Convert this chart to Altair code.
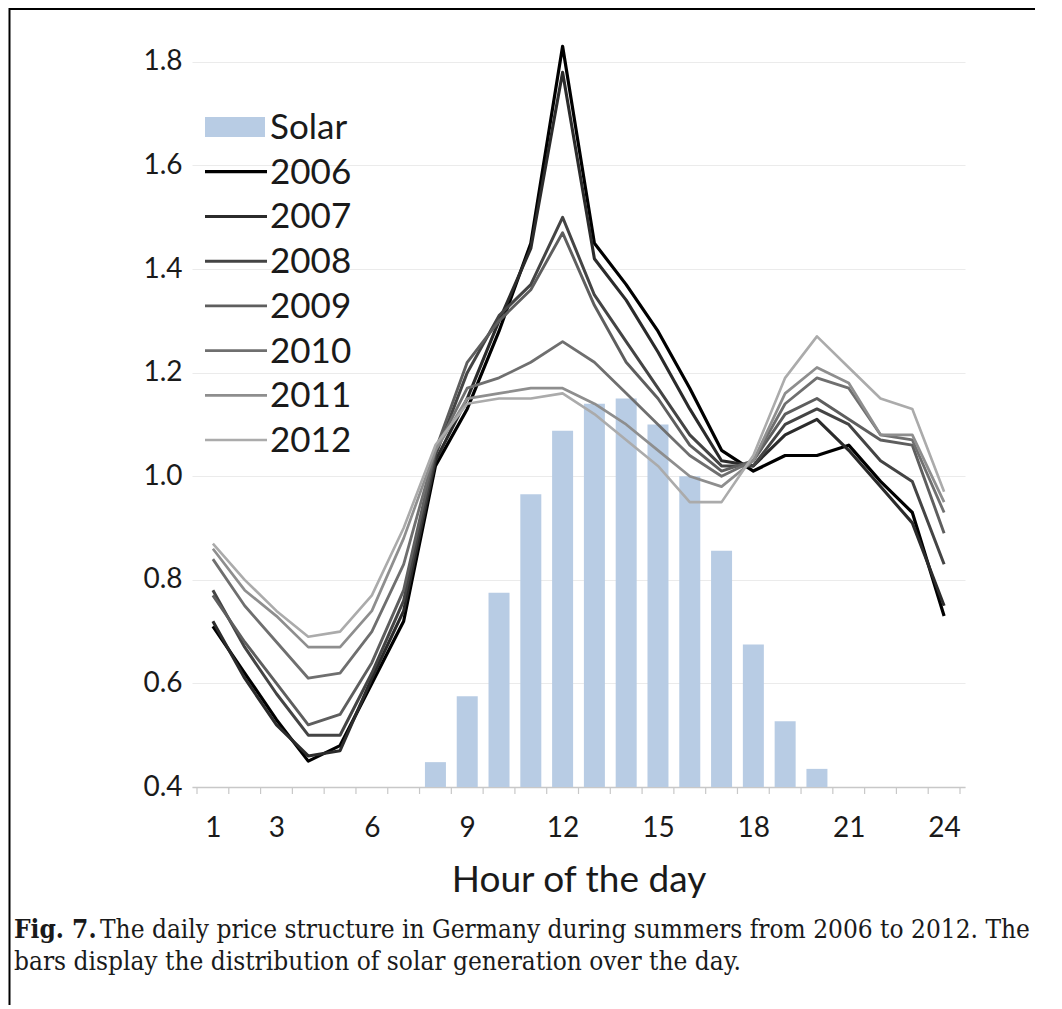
import altair as alt
import pandas as pd

# ---------------- data ----------------
hours = list(range(1, 25))
label_hours = [1, 3, 6, 9, 12, 15, 18, 21, 24]
y_ticks = [0.4, 0.6, 0.8, 1.0, 1.2, 1.4, 1.6, 1.8]

solar_hours = [8, 9, 10, 11, 12, 13, 14, 15, 16, 17, 18, 19, 20]
solar = [0.448, 0.575, 0.775, 0.965, 1.088, 1.14, 1.15, 1.10, 1.00, 0.856, 0.675, 0.527, 0.435]

years = ["2006", "2007", "2008", "2009", "2010", "2011", "2012"]
p2006 = [0.71, 0.62, 0.53, 0.45, 0.48, 0.60, 0.72, 1.02, 1.13, 1.28, 1.45, 1.83, 1.45, 1.37, 1.28, 1.17, 1.05, 1.01, 1.04, 1.04, 1.06, 0.99, 0.93, 0.73]
p2007 = [0.72, 0.61, 0.52, 0.46, 0.47, 0.61, 0.74, 1.03, 1.15, 1.30, 1.44, 1.78, 1.42, 1.34, 1.24, 1.13, 1.03, 1.02, 1.08, 1.11, 1.05, 0.98, 0.91, 0.75]
p2008 = [0.78, 0.67, 0.58, 0.50, 0.50, 0.62, 0.76, 1.04, 1.20, 1.31, 1.37, 1.50, 1.35, 1.26, 1.17, 1.08, 1.02, 1.02, 1.10, 1.13, 1.10, 1.03, 0.99, 0.83]
p2009 = [0.77, 0.68, 0.60, 0.52, 0.54, 0.64, 0.78, 1.05, 1.22, 1.30, 1.36, 1.47, 1.33, 1.22, 1.15, 1.06, 1.01, 1.03, 1.12, 1.15, 1.11, 1.07, 1.06, 0.89]
p2010 = [0.84, 0.75, 0.68, 0.61, 0.62, 0.70, 0.83, 1.05, 1.17, 1.19, 1.22, 1.26, 1.22, 1.16, 1.10, 1.04, 1.00, 1.03, 1.14, 1.19, 1.17, 1.08, 1.07, 0.93]
p2011 = [0.86, 0.78, 0.73, 0.67, 0.67, 0.74, 0.88, 1.05, 1.15, 1.16, 1.17, 1.17, 1.14, 1.10, 1.05, 1.00, 0.98, 1.03, 1.16, 1.21, 1.18, 1.08, 1.08, 0.95]
p2012 = [0.87, 0.80, 0.74, 0.69, 0.70, 0.77, 0.90, 1.06, 1.14, 1.15, 1.15, 1.16, 1.12, 1.07, 1.02, 0.95, 0.95, 1.04, 1.19, 1.27, 1.21, 1.15, 1.13, 0.97]
prices = [p2006, p2007, p2008, p2009, p2010, p2011, p2012]

year_colors = ["#000000", "#2b2b2b", "#444444", "#5e5e5e", "#6f6f6f", "#8e8e8e", "#ababab"]
year_widths = [3.2, 2.6, 2.4, 2.2, 2.2, 2.0, 2.0]
solar_color = "#b8cce4"
legend_names = ["Solar"] + years

caption_bold = "Fig. 7."
caption_line1 = "The daily price structure in Germany during summers from 2006 to 2012. The"
caption_line2 = "bars display the distribution of solar generation over the day."

# ---------------- tables ----------------
bars_df = pd.DataFrame({"hour": solar_hours, "value": solar})
rows = []
for yr, vals in zip(years, prices):
    for h, v in zip(hours, vals):
        rows.append({"hour": h, "value": v, "series": yr})
lines_df = pd.DataFrame(rows)
bounds_df = pd.DataFrame({"b": [hours[0] - 0.5] + [h + 0.5 for h in hours]})
legend_df = pd.DataFrame({"series": legend_names, "row": list(range(len(legend_names)))})
legend_lines_df = legend_df[legend_df["series"] != "Solar"]

FONT = "Lato"
CAP_FONT = "DejaVu Serif Condensed"
W, H = 773, 751
AXIS_GREY = "#c8c8c8"

x_scale = alt.Scale(domain=[0.5, 24.5], nice=False, zero=False)
y_scale = alt.Scale(domain=[0.4, 1.85], nice=False, zero=False)
color_scale = alt.Scale(domain=years, range=year_colors)
width_scale = alt.Scale(domain=years, range=year_widths)
row_scale = alt.Scale(domain=[0, len(legend_names) - 1], range=[0, 313], nice=False, zero=False)

x_axis = alt.Axis(
    values=label_hours, format="d",
    grid=False,
    domain=True, domainColor=AXIS_GREY, domainWidth=1.5,
    ticks=False,
    labelFont=FONT, labelFontSize=28, labelColor="#1a1a1a", labelPadding=27,
    labelOverlap=False, labelFlush=False, labelBound=False,
    title="Hour of the day", titleFont=FONT, titleFontSize=37, titleFontWeight="normal",
    titleColor="#1a1a1a", titlePadding=20,
)
y_axis = alt.Axis(
    values=y_ticks, format=".1f",
    domain=False, ticks=False,
    grid=True, gridColor="#ebebeb", gridWidth=1.2,
    labelFont=FONT, labelFontSize=28, labelColor="#1a1a1a", labelPadding=10,
    title=None,
)

bars = alt.Chart(bars_df).mark_bar(size=21, opacity=1, color=solar_color).encode(
    x=alt.X("hour:Q", scale=x_scale, axis=x_axis),
    y=alt.Y("value:Q", scale=y_scale, axis=y_axis),
    y2=alt.datum(0.4),
)

tick_marks = alt.Chart(bounds_df).mark_rule(color=AXIS_GREY, strokeWidth=1.2).encode(
    x=alt.X("b:Q", scale=x_scale, axis=x_axis),
    y=alt.value(H), y2=alt.value(H + 7),
)

lines = alt.Chart(lines_df).mark_line(interpolate="linear", strokeJoin="round").encode(
    x=alt.X("hour:Q", scale=x_scale, axis=x_axis),
    y=alt.Y("value:Q", scale=y_scale, axis=y_axis),
    stroke=alt.Stroke("series:N", scale=color_scale, legend=None),
    strokeWidth=alt.StrokeWidth("series:N", scale=width_scale, legend=None),
    order=alt.Order("series:N", sort="descending"),
)

# ---- legend (drawn as marks, one row per series) ----
LEG_X0, LEG_X1, LEG_Y0 = 13, 75, 91
legend_swatch = alt.Chart(pd.DataFrame({"k": [0]})).mark_rule(
    color=solar_color, strokeWidth=20, strokeCap="butt"
).encode(x=alt.value(LEG_X0), x2=alt.value(LEG_X1 - 2), y=alt.value(LEG_Y0))

legend_lines = alt.Chart(legend_lines_df).mark_rule(strokeCap="butt").encode(
    x=alt.value(LEG_X0), x2=alt.value(LEG_X1),
    y=alt.value(LEG_Y0),
    yOffset=alt.YOffset("row:Q", scale=row_scale),
    stroke=alt.Stroke("series:N", scale=color_scale, legend=None),
    strokeWidth=alt.StrokeWidth("series:N", scale=width_scale, legend=None),
)

legend_text = alt.Chart(legend_df).mark_text(
    align="left", baseline="middle", font=FONT, fontSize=35, color="#1a1a1a"
).encode(
    text="series:N",
    x=alt.value(LEG_X1 + 3),
    y=alt.value(LEG_Y0 + 1),
    yOffset=alt.YOffset("row:Q", scale=row_scale),
)

frame = alt.Chart(pd.DataFrame({"k": [0]})).mark_rect(
    fill="transparent", stroke="#000000", strokeWidth=2
).encode(
    x=alt.value(-182.5), x2=alt.value(W + 300),
    y=alt.value(-27), y2=alt.value(H + 400),
)

cap_style = dict(align="left", baseline="middle", font=CAP_FONT, fontSize=26, color="#1a1a1a")
cap_a = alt.Chart(pd.DataFrame({"t": [caption_bold]})).mark_text(fontWeight="bold", **cap_style).encode(
    text="t:N", x=alt.value(-178), y=alt.value(894))
cap_b = alt.Chart(pd.DataFrame({"t": [caption_line1]})).mark_text(**cap_style).encode(
    text="t:N", x=alt.value(-92), y=alt.value(894))
cap_c = alt.Chart(pd.DataFrame({"t": [caption_line2]})).mark_text(**cap_style).encode(
    text="t:N", x=alt.value(-178), y=alt.value(926))

chart = alt.layer(
    frame, bars, tick_marks, lines, legend_swatch, legend_lines, legend_text, cap_a, cap_b, cap_c
).properties(
    width=W, height=H,
    background="white",
    padding={"left": 184, "top": 28, "right": 70, "bottom": 218},
    autosize=alt.AutoSizeParams(type="none"),
).configure_view(strokeWidth=0, stroke="transparent")

chart.save("out.html", embed_options={"renderer": "svg", "actions": False})
